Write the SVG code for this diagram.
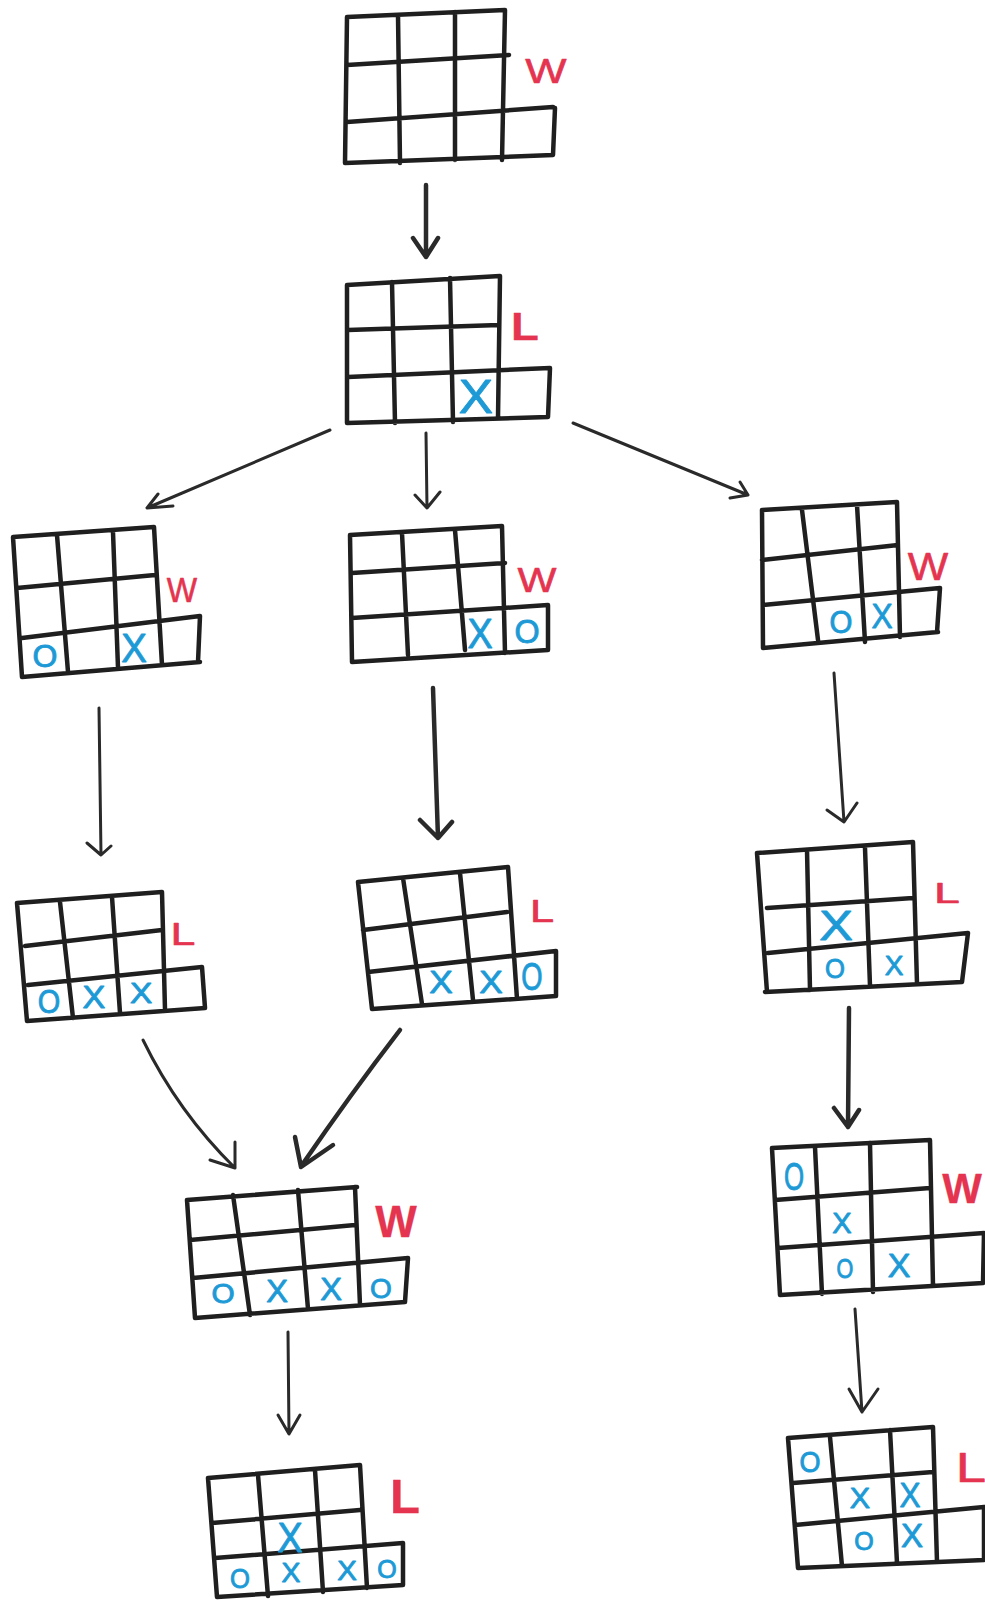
<svg xmlns="http://www.w3.org/2000/svg" width="985" height="1600" viewBox="0 0 985 1600">
  <style>
    .g { fill: none; stroke: #1f1f1f; stroke-width: 4.5; stroke-linecap: round; stroke-linejoin: round; }
    .a { fill: none; stroke: #2a2a2a; stroke-width: 3; stroke-linecap: round; stroke-linejoin: round; }
    .a.t { stroke-width: 4.5; }
    .m { font-family: "Liberation Sans", Arial, sans-serif; fill: #1d9ad6; stroke: #1d9ad6; stroke-width: 0.9; stroke-linejoin: round; text-anchor: middle; }
    .r { font-family: "Liberation Sans", Arial, sans-serif; fill: #e5344f; stroke: #e5344f; stroke-width: 0.6; stroke-linejoin: round; text-anchor: middle; }
    .b { font-weight: bold; stroke-width: 0.3; }
  </style>
  <rect width="985" height="1600" fill="#ffffff"/>

  <!-- connectors -->
  <g id="connectors">
    <path class="a t" d="M426,185 L426,257 M413,238 L426,257 L438,238"/>
    <path class="a" d="M330,430 L147,508 M173,506 L147,508 L158,494"/>
    <path class="a" d="M426,433 L427,508 M415,495 L427,508 L440,492"/>
    <path class="a" d="M573,423 L748,495 M740,482 L748,495 L730,498"/>
    <path class="a" d="M99,708 L101,855 M87,843 L101,855 L111,846"/>
    <path class="a t" d="M433,688 L438,838 M420,820 L438,838 L452,822"/>
    <path class="a" d="M834,673 L844,822 M827,810 L844,822 L857,803"/>
    <path class="a" d="M143,1040 Q178,1112 235,1168 M235,1142 L235,1168 L210,1160"/>
    <path class="a t" d="M400,1030 Q350,1095 302,1165 M295,1137 L301,1167 L333,1145"/>
    <path class="a t" d="M849,1008 L848,1127 M834,1108 L848,1127 L859,1110"/>
    <path class="a" d="M288,1332 L289,1434 M278,1415 L289,1434 L300,1415"/>
    <path class="a" d="M855,1309 L862,1412 M849,1389 L862,1412 L878,1389"/>
  </g>

  <!-- empty board, W -->
  <g id="b1">
    <path class="g" d="M347,17 L505,10 M347,65 L509,55 M347,122 L553,107 M345,163 L553,155 M347,17 L345,163 M398,15 L400,163 M455,12 L455,160 M505,10 L502,160 M555,108 L553,155"/>
    <text class="r" font-size="35" transform="translate(546 83) scale(1.25 1)">W</text>
  </g>

  <!-- X in bottom row, L -->
  <g id="b2">
    <path class="g" d="M347,285 L500,276 M348,330 L499,325 M348,377 L550,368 M347,423 L548,417 M347,285 L347,423 M392,282 L395,423 M450,278 L453,422 M500,276 L498,418 M550,368 L548,417"/>
    <text class="r b" font-size="38" transform="translate(525 340) scale(1.2 1)">L</text>
    <text class="m" font-size="49" transform="translate(476 413) scale(1.05 1)">X</text>
  </g>

  <g id="b3">
    <path class="g" d="M13,537 L154,527 M17,588 L155,575 M22,638 L200,616 M22,677 L200,662 M13,537 L22,677 M57,535 L68,672 M113,532 L118,668 M154,527 L162,665 M200,616 L198,662"/>
    <text class="r" font-size="35" transform="translate(182 602) scale(0.92 1)">W</text>
    <text class="m" font-size="32" transform="translate(45 667) scale(1.0 1)">O</text>
    <text class="m" font-size="40" transform="translate(134 662) scale(0.96 1)">X</text>
  </g>

  <g id="b4">
    <path class="g" d="M350,535 L502,526 M352,573 L505,563 M352,618 L548,605 M352,662 L548,650 M350,535 L352,662 M402,533 L408,655 M455,530 L465,650 M502,526 L505,653 M548,605 L548,650"/>
    <text class="r" font-size="35" transform="translate(537 592) scale(1.18 1)">W</text>
    <text class="m" font-size="42" transform="translate(480 648) scale(0.9 1)">X</text>
    <text class="m" font-size="34" transform="translate(527 643) scale(0.95 1)">O</text>
  </g>

  <g id="b5">
    <path class="g" d="M762,510 L897,502 M762,560 L898,545 M763,605 L940,588 M763,648 L938,632 M762,510 L763,648 M802,510 L818,640 M857,505 L865,642 M897,502 L900,637 M940,588 L937,632"/>
    <text class="r" font-size="39" transform="translate(928 580) scale(1.1 1)">W</text>
    <text class="m" font-size="31" transform="translate(841 633) scale(0.95 1)">O</text>
    <text class="m" font-size="36" transform="translate(882 628) scale(0.88 1)">X</text>
  </g>

  <g id="b6">
    <path class="g" d="M17,903 L162,892 M25,946 L162,930 M28,985 L202,967 M27,1021 L205,1008 M17,903 L27,1021 M60,902 L73,1018 M112,897 L120,1013 M162,892 L165,1010 M202,967 L205,1008"/>
    <text class="r" font-size="32" transform="translate(183 945) scale(1.4 1)">L</text>
    <text class="m" font-size="34" transform="translate(49 1013) scale(0.85 1)">O</text>
    <text class="m" font-size="32" transform="translate(94 1008) scale(1.07 1)">X</text>
    <text class="m" font-size="29" transform="translate(141 1003) scale(1.15 1)">X</text>
  </g>

  <g id="b7">
    <path class="g" d="M358,882 L508,867 M363,930 L507,912 M368,972 L556,951 M372,1009 L556,996 M358,882 L372,1009 M403,878 L422,1004 M460,873 L473,1000 M508,867 L517,999 M556,951 L556,996"/>
    <text class="r" font-size="31" transform="translate(542 922) scale(1.4 1)">L</text>
    <text class="m" font-size="32" transform="translate(441 993) scale(1.1 1)">X</text>
    <text class="m" font-size="32" transform="translate(491 993) scale(1.1 1)">X</text>
    <text class="m" font-size="38" transform="translate(532 990) scale(0.72 1)">O</text>
  </g>

  <g id="b8">
    <path class="g" d="M757,853 L913,842 M767,908 L913,898 M768,953 L968,933 M765,992 L962,982 M757,853 L767,992 M807,850 L810,990 M865,848 L870,986 M913,842 L917,984 M968,933 L962,982"/>
    <text class="r" font-size="29" transform="translate(947 903) scale(1.6 1)">L</text>
    <text class="m" font-size="42" transform="translate(836 940) scale(1.2 1)">X</text>
    <text class="m" font-size="27" transform="translate(835 978) scale(0.95 1)">O</text>
    <text class="m" font-size="28" transform="translate(894 975)">X</text>
  </g>

  <g id="b9">
    <path class="g" d="M187,1200 L357,1187 M190,1240 L355,1225 M193,1278 L408,1258 M195,1318 L405,1302 M187,1200 L195,1318 M233,1195 L250,1315 M298,1190 L308,1309 M355,1187 L360,1305 M408,1258 L405,1302"/>
    <text class="r b" font-size="44" transform="translate(396 1237)">W</text>
    <text class="m" font-size="27" transform="translate(223 1303) scale(1.1 1)">O</text>
    <text class="m" font-size="31" transform="translate(277 1302) scale(1.05 1)">X</text>
    <text class="m" font-size="31" transform="translate(331 1300) scale(1.05 1)">X</text>
    <text class="m" font-size="28" transform="translate(381 1298) scale(1.0 1)">O</text>
  </g>

  <g id="b10">
    <path class="g" d="M208,1478 L360,1465 M212,1523 L360,1510 M215,1558 L403,1543 M217,1597 L403,1585 M208,1478 L217,1597 M258,1475 L268,1596 M315,1470 L323,1592 M360,1465 L367,1588 M403,1543 L403,1585"/>
    <text class="r b" font-size="49" transform="translate(405 1513) scale(1.0 1)">L</text>
    <text class="m" font-size="42" transform="translate(290 1552) scale(0.9 1)">X</text>
    <text class="m" font-size="27" transform="translate(240 1588) scale(0.95 1)">O</text>
    <text class="m" font-size="27" transform="translate(291 1582) scale(1.05 1)">X</text>
    <text class="m" font-size="28" transform="translate(347 1580) scale(1.05 1)">X</text>
    <text class="m" font-size="25" transform="translate(387 1578) scale(1.0 1)">O</text>
  </g>

  <g id="b11">
    <path class="g" d="M772,1148 L930,1140 M775,1200 L930,1188 M778,1248 L984,1233 M780,1295 L983,1283 M772,1148 L780,1295 M815,1147 L822,1294 M870,1143 L873,1292 M930,1140 L933,1286 M984,1233 L983,1283"/>
    <text class="r b" font-size="42" transform="translate(962 1203) scale(1.0 1)">W</text>
    <text class="m" font-size="38" transform="translate(794 1190) scale(0.68 1)">O</text>
    <text class="m" font-size="29" transform="translate(842 1233)">X</text>
    <text class="m" font-size="27" transform="translate(845 1278) scale(0.8 1)">O</text>
    <text class="m" font-size="33" transform="translate(899 1277) scale(1.03 1)">X</text>
  </g>

  <g id="b12">
    <path class="g" d="M788,1438 L933,1427 M793,1483 L933,1472 M795,1525 L984,1507 M798,1568 L984,1560 M788,1438 L798,1568 M830,1437 L842,1566 M890,1430 L897,1563 M933,1427 L937,1562 M984,1507 L984,1560"/>
    <text class="r" font-size="42" transform="translate(971 1482) scale(1.3 1)">L</text>
    <text class="m" font-size="30" transform="translate(810 1472) scale(0.9 1)">O</text>
    <text class="m" font-size="29" transform="translate(860 1508) scale(1.05 1)">X</text>
    <text class="m" font-size="35" transform="translate(910 1507) scale(0.9 1)">X</text>
    <text class="m" font-size="25" transform="translate(864 1550) scale(1.0 1)">O</text>
    <text class="m" font-size="33" transform="translate(912 1547)">X</text>
  </g>
</svg>
